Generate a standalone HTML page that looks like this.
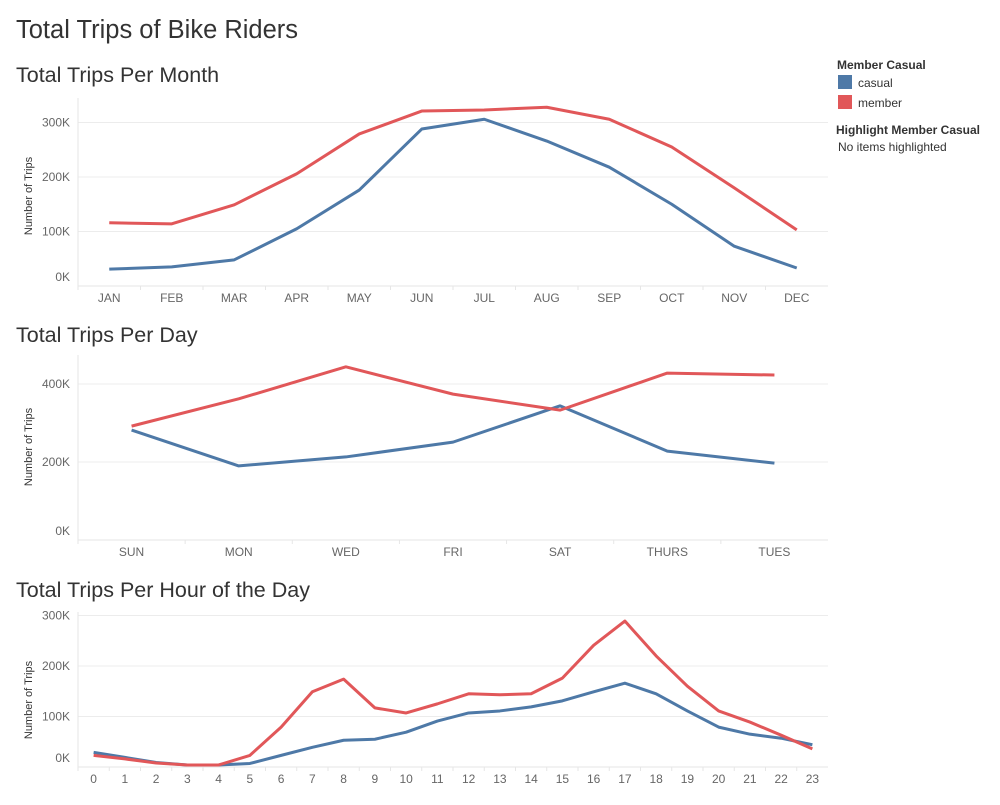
<!DOCTYPE html>
<html><head><meta charset="utf-8">
<style>
body{margin:0;background:#fff;font-family:"Liberation Sans",sans-serif;}
svg text{font-family:"Liberation Sans",sans-serif;}
</style></head>
<body>
<svg id="root" width="1000" height="800" xmlns="http://www.w3.org/2000/svg">
<text x="16" y="38" font-size="25.5" fill="#333">Total Trips of Bike Riders</text>
<g>
<text x="837" y="69" font-size="12" font-weight="bold" fill="#333">Member Casual</text>
<rect x="838" y="75" width="14" height="14" fill="#4e79a7"/>
<text x="858" y="87" font-size="12" fill="#333">casual</text>
<rect x="838" y="95" width="14" height="14" fill="#e15759"/>
<text x="858" y="107" font-size="12" fill="#333">member</text>
<text x="836" y="134" font-size="12" font-weight="bold" fill="#333">Highlight Member Casual</text>
<text x="838" y="151" font-size="12" fill="#333">No items highlighted</text>
</g>
</svg>
<script>
const monthCats=["JAN","FEB","MAR","APR","MAY","JUN","JUL","AUG","SEP","OCT","NOV","DEC"];
const monthCasual=[31,35,48,105,176,288,306,266,218,150,73,33];
const monthMember=[116,114,149,206,279,321,323,328,306,255,180,103];
const monthTicks=[0,100,200,300];
const dayCats=["SUN","MON","WED","FRI","SAT","THURS","TUES"];
const dayCasual=[282,190,213,251,344,228,197];
const dayMember=[292,362,444,374,333,428,423];
const dayTicks=[0,200,400];
const hourCats=["0","1","2","3","4","5","6","7","8","9","10","11","12","13","14","15","16","17","18","19","20","21","22","23"];
const hourCasual=[29,19,9,4,4,7,23,39,53,55,69,91,107,111,119,131,149,166,145,111,79,65,57,44];
const hourMember=[23,16,8,4,4,23,79,149,174,117,107,125,145,143,145,176,241,289,220,160,111,89,63,36];
const hourTicks=[0,100,200,300];

const NS="http://www.w3.org/2000/svg";
const root=document.getElementById('root');
function mk(tag,attrs,parent){const e=document.createElementNS(NS,tag);for(const k in attrs)e.setAttribute(k,attrs[k]);(parent||root).appendChild(e);return e;}

function chart(cfg){
  const g=mk('g',{});
  
  
  const L=78,R=828;
  const t=mk('text',{x:16,y:cfg.titleY,'font-size':21.5,fill:'#333'},g);t.textContent=cfg.title;
  
  
  const y=v=>cfg.zeroY-v*cfg.pxPerK;
  const band=(R-L)/cfg.cats.length;
  const x=i=>L+band*(i+0.5);
  cfg.ticks.forEach(v=>{
    const yy=y(v);
    if(v>0){const gl=mk('line',{x1:L,x2:R,y1:yy,y2:yy,stroke:'#ececec','stroke-width':1},g);
      
      }
    const tl=mk('text',{x:70,y:(v===0?cfg.zeroY-5:yy+4),'font-size':12,fill:'#666','text-anchor':'end'},g);
    tl.textContent=v+'K';
    
    
  });
  const ax=mk('line',{x1:L,x2:R,y1:cfg.zeroY,y2:cfg.zeroY,stroke:'#e6e6e6'},g);
  
  
  const ay=mk('line',{x1:L,x2:L,y1:cfg.topY,y2:cfg.zeroY,stroke:'#e6e6e6'},g);
  
  
  const yt=mk('text',{x:0,y:0,'font-size':11,fill:'#333','text-anchor':'middle',transform:`translate(32,${cfg.axisMid}) rotate(-90)`},g);
  yt.textContent='Number of Trips';
  
  
  cfg.cats.forEach((c,i)=>{
    const tk=mk('line',{x1:L+band*i,x2:L+band*i,y1:cfg.zeroY,y2:cfg.zeroY+4,stroke:'#e6e6e6'},g);
    
    
    const tl=mk('text',{x:x(i),y:cfg.zeroY+16,'font-size':12,fill:'#666','text-anchor':'middle'},g);
    tl.textContent=c;
    
    
  });
  [[cfg.casual,'#4e79a7','casual'],[cfg.member,'#e15759','member']].forEach(([d,col,n])=>{
    const p=mk('polyline',{points:d.map((v,i)=>x(i)+','+y(v)).join(' '),fill:'none',stroke:col,'stroke-width':3,'stroke-linejoin':'round'},g);
    
    
  });
}
chart({name:'trips-per-month',title:'Total Trips Per Month',titleY:82,cats:monthCats,casual:monthCasual,member:monthMember,ticks:monthTicks,zeroY:286,pxPerK:0.545,topY:98,axisMid:196});
chart({name:'trips-per-day',title:'Total Trips Per Day',titleY:342,cats:dayCats,casual:dayCasual,member:dayMember,ticks:dayTicks,zeroY:540,pxPerK:0.39,topY:355,axisMid:447});
chart({name:'trips-per-hour',title:'Total Trips Per Hour of the Day',titleY:597,cats:hourCats,casual:hourCasual,member:hourMember,ticks:hourTicks,zeroY:767,pxPerK:0.505,topY:612,axisMid:700});
</script>
</body></html>
